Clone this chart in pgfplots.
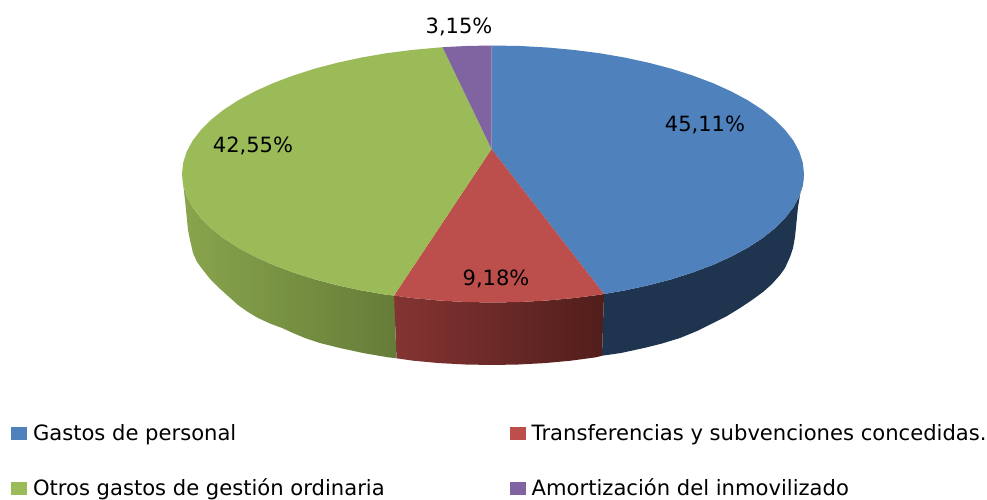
\documentclass[border=0pt]{standalone}
\usepackage{fontspec}
\setmainfont{DejaVu Sans}
\usepackage{pgfplots}
\pgfplotsset{compat=1.18}
\definecolor{pieblue}{HTML}{4F81BD}
\definecolor{piered}{HTML}{BC4F4C}
\definecolor{piegreen}{HTML}{9BBB59}
\definecolor{piepurple}{HTML}{8064A2}
\definecolor{wallblue}{HTML}{1F344F}
\definecolor{wallredL}{HTML}{843432}
\definecolor{wallredR}{HTML}{511E1B}
\definecolor{wallgreenL}{HTML}{88A54D}
\definecolor{wallgreenR}{HTML}{657C38}
\begin{document}
\begin{tikzpicture}
\begin{axis}[
  scale only axis, width=987pt, height=500pt,
  xmin=0, xmax=987, ymin=0, ymax=500, y dir=reverse,
  axis lines=none, clip=false,
  legend columns=2,
  legend cell align=left,
  legend image code/.code={\fill[#1] (0pt,-6.5pt) rectangle (16pt,6.5pt);},
  legend style={
    at={(axis cs:11,422.5)}, anchor=north west,
    draw=none, fill=none, inner sep=0pt, outer sep=0pt,
    font=\fontsize{21.1}{25}\selectfont,
    row sep=33pt,
    /tikz/column 1/.style={column sep=4pt},
    /tikz/column 2/.style={column sep=123pt},
    /tikz/column 3/.style={column sep=4pt},
  },
]
% side walls
\addplot[draw=none, fill=wallblue, forget plot] coordinates {
 (604,294) (624.4,290.5) (648.5,285.3) (671.4,279.3) (692.9,272.4) (712.9,264.9)
 (731.2,256.6) (747.8,247.7) (762.3,238.3) (774.9,228.3) (785.2,217.9) (793.4,207.3)
 (799.3,196.3) (802.8,185.2) (804,174) (800,195) (798,207)
 (795,237) (793,248) (790,257) (785,268) (780,275) (772,284) (763,292) (752,300) (740,308)
 (727,316) (713,323) (697,331) (680,338) (662,343.5) (644,348) (620.5,353.1) (602,355.7)
} -- cycle;
\addplot[draw=none, left color=wallredL, right color=wallredR, forget plot] coordinates {
 (394,295.5) (412.5,298.1) (439,300.5) (465.9,302) (493,302.5) (520.1,302) (547,300.5) (573.5,298.1) (599.4,294.8) (604,294)
 (602,355.7) (596,357.3) (570.7,360.7) (544.8,363.1) (518.5,364.5) (492,365) (465.5,364.5) (439.2,363.1) (413.3,360.7) (396.5,358.3)
} -- cycle;
\addplot[draw=none, left color=wallgreenL, right color=wallgreenR, forget plot] coordinates {
 (182,174) (183.2,185.2) (186.7,196.3) (192.6,207.3) (200.8,217.9) (211.1,228.3) (223.7,238.3)
 (238.2,247.7) (254.8,256.6) (273.1,264.9) (293.1,272.4) (314.6,279.3) (337.5,285.3) (361.6,290.5) (386.6,294.8) (394,295.5)
 (396.5,358.3) (388,357.3) (363.5,353.1) (340,348) (320,343) (305,338) (293,333) (282,328) (270,323.5) (258,318)
 (248,312) (238,305) (228,296) (218,287) (210,279) (203,270) (197,262) (193,253) (190,240) (188,230) (185,200)
} -- cycle;
% top faces
\addplot[draw=none, fill=pieblue] coordinates {
 (491.5,149) (491.5,45.5) (520.1,46) (547,47.5) (573.5,49.9) (599.4,53.2) (624.4,57.5) (648.5,62.7)
 (671.4,68.7) (692.9,75.6) (712.9,83.1) (731.2,91.4) (747.8,100.3) (762.3,109.7) (774.9,119.7)
 (785.2,130.1) (793.4,140.7) (799.3,151.7) (802.8,162.8) (804,174) (802.8,185.2) (799.3,196.3)
 (793.4,207.3) (785.2,217.9) (774.9,228.3) (762.3,238.3) (747.8,247.7) (731.2,256.6) (712.9,264.9)
 (692.9,272.4) (671.4,279.3) (648.5,285.3) (624.4,290.5) (604,294)
} -- cycle;
\addlegendentry{Gastos de personal}
\addplot[draw=none, fill=piered] coordinates {
 (491.5,149) (604,294) (599.4,294.8) (573.5,298.1) (547,300.5) (520.1,302) (493,302.5)
 (465.9,302) (439,300.5) (412.5,298.1) (394,295.5)
} -- cycle;
\addlegendentry{Transferencias y subvenciones concedidas.}
\addplot[draw=none, fill=piegreen] coordinates {
 (491.5,149) (394,295.5) (386.6,294.8) (361.6,290.5) (337.5,285.3) (314.6,279.3) (293.1,272.4)
 (273.1,264.9) (254.8,256.6) (238.2,247.7) (223.7,238.3) (211.1,228.3) (200.8,217.9) (192.6,207.3)
 (186.7,196.3) (183.2,185.2) (182,174) (183.2,162.8) (186.7,151.7) (192.6,140.7) (200.8,130.1)
 (211.1,119.7) (223.7,109.7) (238.2,100.3) (254.8,91.4) (273.1,83.1) (293.1,75.6) (314.6,68.7)
 (337.5,62.7) (361.6,57.5) (386.6,53.2) (412.5,49.9) (442.5,47.2)
} -- cycle;
\addlegendentry{Otros gastos de gestión ordinaria}
\addplot[draw=none, fill=piepurple] coordinates {
 (491.5,149) (442.5,47.2) (465.9,46) (491.5,45.5)
} -- cycle;
\addlegendentry{Amortización del inmovilizado}
% data labels
\node[font=\fontsize{21}{25}\selectfont] at (axis cs:705,125) {45,11\%};
\node[font=\fontsize{21}{25}\selectfont] at (axis cs:496,279) {9,18\%};
\node[font=\fontsize{21}{25}\selectfont] at (axis cs:253,146) {42,55\%};
\node[font=\fontsize{21}{25}\selectfont] at (axis cs:459,27) {3,15\%};
\end{axis}
\pgfresetboundingbox
\useasboundingbox (0,0) rectangle (987pt,500pt);
\end{tikzpicture}
\end{document}
